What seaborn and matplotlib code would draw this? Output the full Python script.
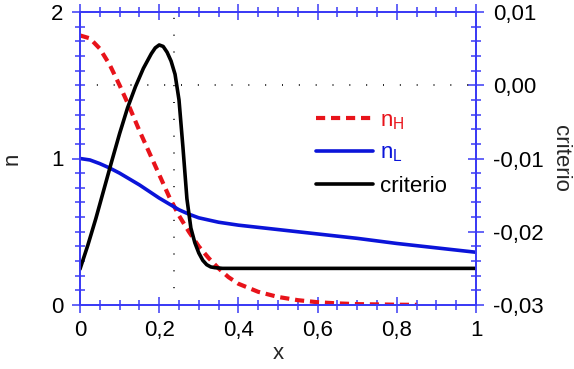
import matplotlib
matplotlib.use("Agg")
import matplotlib.pyplot as plt
from matplotlib.ticker import FixedLocator, MultipleLocator, FuncFormatter
import seaborn as sns
import pandas as pd

# Refractive index profiles (left axis) and design criterion (right axis)
x_H = [0, 0.025, 0.05, 0.075, 0.1, 0.125, 0.15, 0.175, 0.2, 0.225, 0.25, 0.275,
       0.3, 0.325, 0.35, 0.375, 0.4, 0.45, 0.5, 0.55, 0.6, 0.65, 0.7, 0.75, 0.8, 0.85]
n_H = [1.84, 1.82, 1.75, 1.64, 1.50, 1.35, 1.19, 1.04, 0.89, 0.74, 0.61, 0.50,
       0.40, 0.32, 0.25, 0.19, 0.145, 0.09, 0.055, 0.033, 0.019, 0.011, 0.006, 0.004, 0.002, 0.001]

x_L = [0, 0.025, 0.05, 0.075, 0.1, 0.125, 0.15, 0.175, 0.2, 0.225, 0.25, 0.275,
       0.3, 0.35, 0.4, 0.45, 0.5, 0.6, 0.7, 0.8, 0.9, 1.0]
n_L = [1.00, 0.99, 0.965, 0.935, 0.90, 0.86, 0.82, 0.775, 0.73, 0.69, 0.65, 0.62,
       0.595, 0.565, 0.545, 0.53, 0.515, 0.485, 0.455, 0.42, 0.39, 0.36]

x_C = [0, 0.02, 0.04, 0.06, 0.08, 0.1, 0.12, 0.14, 0.16, 0.18, 0.19, 0.2, 0.21,
       0.22, 0.23, 0.24, 0.25, 0.26, 0.27, 0.28, 0.29, 0.3, 0.31, 0.32, 0.33, 0.34,
       0.36, 0.4, 0.5, 0.6, 0.7, 0.8, 0.9, 1.0]
criterio = [-0.0251, -0.0218, -0.0182, -0.0143, -0.0104, -0.0066, -0.0031, -0.0002,
            0.0023, 0.0043, 0.0051, 0.0055, 0.0053, 0.0045, 0.0033, 0.0015, -0.0020,
            -0.0085, -0.0155, -0.0195, -0.0215, -0.0229, -0.0239, -0.0245, -0.0248,
            -0.0249, -0.0250, -0.0250, -0.0250, -0.0250, -0.0250, -0.0250, -0.0250, -0.0250]

x_mark = 0.237          # vertical reference line
crit_zero = 0.0         # horizontal reference line

x_ticks = [0, 0.2, 0.4, 0.6, 0.8, 1.0]
n_ticks = [0, 1, 2]
c_ticks = [-0.03, -0.02, -0.01, 0.0, 0.01]

sns.set_style("white")
plt.rcParams["font.family"] = ["Liberation Sans", "DejaVu Sans"]
plt.rcParams["mathtext.fontset"] = "custom"
plt.rcParams["mathtext.rm"] = "Liberation Sans"

RED = "#e8131a"
BLUE = "#0b14d9"
AXBLUE = "#3b3bf5"
FS = 16

fig = plt.figure(figsize=(5.74, 3.69), dpi=100)
ax = fig.add_axes([80 / 574, 1 - 305 / 369, 396 / 574, 293 / 369])
ax2 = ax.twinx()

dfH = pd.DataFrame({"x": x_H, "n": n_H})
dfL = pd.DataFrame({"x": x_L, "n": n_L})
dfC = pd.DataFrame({"x": x_C, "c": criterio})

sns.lineplot(data=dfH, x="x", y="n", ax=ax, color=RED, lw=3.0,
             linestyle=(0, (2.2, 1.4)), label=r"n$_\mathregular{H}$")
sns.lineplot(data=dfL, x="x", y="n", ax=ax, color=BLUE, lw=2.6,
             label=r"n$_\mathregular{L}$")
sns.lineplot(data=dfC, x="x", y="c", ax=ax2, color="black", lw=2.6,
             label="criterio")

ax.axvline(x_mark, color="black", lw=1.2, linestyle=(0, (0.6, 9.5)), zorder=1)
ax2.axhline(crit_zero, color="black", lw=1.2, linestyle=(0, (0.6, 9.5)), zorder=1)

ax.set_xlim(0, 1)
ax.set_ylim(0, 2)
ax2.set_ylim(-0.03, 0.01)


def comma(v, pos=None):
    if abs(v - round(v)) < 1e-9:
        return "%d" % round(v)
    return ("%g" % v).replace(".", ",")


def comma2(v, pos=None):
    return ("%.2f" % v).replace(".", ",").replace("-0,00", "0,00")


ax.xaxis.set_major_locator(FixedLocator(x_ticks))
ax.xaxis.set_minor_locator(MultipleLocator(0.05))
ax.xaxis.set_major_formatter(FuncFormatter(comma))
ax.yaxis.set_major_locator(FixedLocator(n_ticks))
ax.yaxis.set_minor_locator(MultipleLocator(0.1))
ax.yaxis.set_major_formatter(FuncFormatter(comma))
ax2.yaxis.set_major_locator(FixedLocator(c_ticks))
ax2.yaxis.set_minor_locator(MultipleLocator(0.002))
ax2.yaxis.set_major_formatter(FuncFormatter(comma2))

for a in (ax, ax2):
    for s in a.spines.values():
        s.set_color(AXBLUE)
        s.set_linewidth(1.3)

ax.tick_params(axis="x", which="both", direction="inout", top=True, bottom=True,
               color=AXBLUE, labelsize=FS, labelcolor="black", pad=5)
ax.tick_params(axis="y", which="both", direction="inout", left=True, right=False,
               color=AXBLUE, labelsize=FS, labelcolor="black", pad=6)
ax2.tick_params(axis="y", which="both", direction="inout", right=True, left=False,
                color=AXBLUE, labelsize=FS, labelcolor="black", pad=6)
for a in (ax, ax2):
    a.tick_params(which="major", length=12, width=1.1)
    a.tick_params(which="minor", length=7, width=1.1)

ax.set_xlabel("x", fontsize=FS, labelpad=1)
ax.set_ylabel("n", fontsize=FS, labelpad=20)
ax2.set_ylabel("criterio", fontsize=FS, rotation=270, labelpad=20)

# one legend for both axes
h1, l1 = ax.get_legend_handles_labels()
h2, l2 = ax2.get_legend_handles_labels()
ax.get_legend().remove()
ax2.get_legend().remove()
leg = ax2.legend(h1 + h2, l1 + l2, loc="upper left", bbox_to_anchor=(0.595, 0.665),
                 frameon=False, fontsize=FS, handlelength=2.6, handletextpad=0.3,
                 labelspacing=0.5, borderpad=0, borderaxespad=0)
for txt, col in zip(leg.get_texts(), [RED, BLUE, "black"]):
    txt.set_color(col)

fig.savefig("out.png", dpi=100)
